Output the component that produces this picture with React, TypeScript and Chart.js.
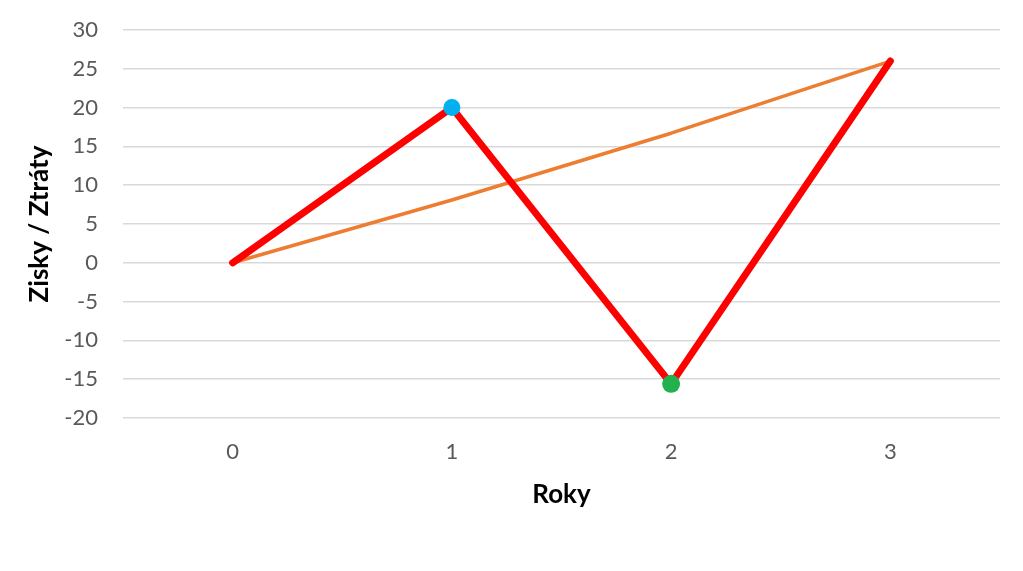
import React, { useEffect, useRef } from "react";
import { Chart, registerables } from "chart.js";

Chart.register(...registerables);

const xTicks = [0, 1, 2, 3];
const yTicks = [-20, -15, -10, -5, 0, 5, 10, 15, 20, 25, 30];
const redValues = [0, 20, -15.6, 26];
const orangeValues = [0, 8.1, 16.7, 26];
const pointRadii = [0, 8.5, 9, 0];
const pointColors = ["#FF0000", "#00B0F0", "#22B14C", "#FF0000"];
const xTitle = "Roky";
const yTitle = "Zisky / Ztráty";

export default function App() {
  const ref = useRef<HTMLCanvasElement | null>(null);
  useEffect(() => {
    document.body.style.margin = "0";
    const ctx = ref.current!;
    const chart = new Chart(ctx, {
      type: "line",
      data: {
        datasets: [
          {
            data: xTicks.map((x, i) => ({ x, y: redValues[i] })),
            borderColor: "#FF0000",
            borderWidth: 7,
            borderCapStyle: "round",
            borderJoinStyle: "round",
            pointRadius: pointRadii,
            pointHoverRadius: pointRadii,
            pointBackgroundColor: pointColors,
            pointBorderWidth: 0,
            tension: 0,
          },
          {
            data: xTicks.map((x, i) => ({ x, y: orangeValues[i] })),
            borderColor: "#ED7D31",
            borderWidth: 3.5,
            borderCapStyle: "round",
            borderJoinStyle: "round",
            pointRadius: 0,
            tension: 0,
          },
        ],
      },
      options: {
        animation: false,
        responsive: false,
        maintainAspectRatio: false,
        layout: { padding: { top: 30, right: 23, bottom: 0, left: 0 } },
        plugins: { legend: { display: false }, tooltip: { enabled: false } },
        scales: {
          x: {
            type: "linear",
            min: -0.5,
            max: 3.5,
            afterBuildTicks: (s: any) => {
              s.ticks = xTicks.map((v) => ({ value: v }));
            },
            afterFit: (s: any) => {
              s.height = 153;
              s.paddingLeft = 0;
              s.paddingRight = 0;
            },
            grid: { display: false, drawTicks: false },
            border: { display: false },
            ticks: {
              padding: 21,
              color: "#595959",
              font: { family: "Lato", size: 22 },
            },
            title: {
              display: true,
              text: xTitle,
              color: "#000000",
              font: { family: "Lato", size: 26, weight: "bold" },
              padding: { top: 0, bottom: 61 },
            },
          },
          y: {
            type: "linear",
            min: -20,
            max: 30,
            afterBuildTicks: (s: any) => {
              s.ticks = yTicks.map((v) => ({ value: v }));
            },
            afterFit: (s: any) => {
              s.width = 123;
              s.paddingTop = 0;
              s.paddingBottom = 0;
            },
            grid: { color: "#D9D9D9", lineWidth: 1.5, drawTicks: false },
            border: { display: false },
            ticks: {
              padding: 25,
              color: "#595959",
              font: { family: "Lato", size: 22 },
            },
            title: {
              display: true,
              text: yTitle,
              color: "#000000",
              font: { family: "Lato", size: 26, weight: "bold" },
              padding: { top: 24, bottom: 0 },
            },
          },
        },
      },
    } as any);
    return () => chart.destroy();
  }, []);
  return (
    <div style={{ position: "absolute", left: 0, top: 0, width: 1023, height: 571, background: "#fff" }}>
      <canvas ref={ref} width={1023} height={571} style={{ width: 1023, height: 571 }} />
    </div>
  );
}
